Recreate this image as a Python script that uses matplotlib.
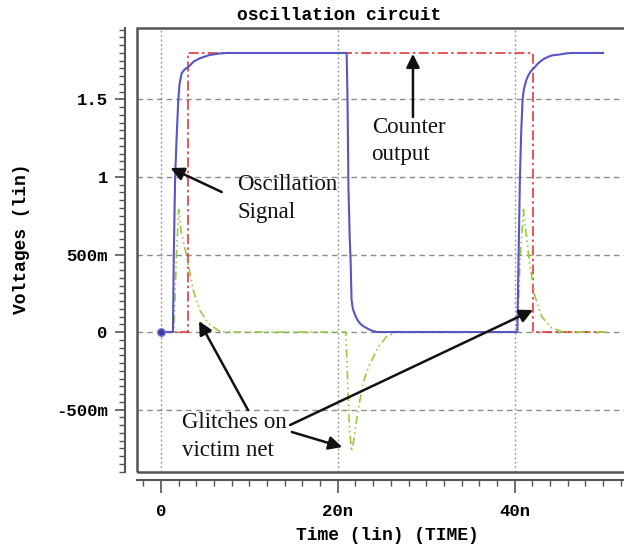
import matplotlib
matplotlib.use('Agg')
import matplotlib.pyplot as plt
from matplotlib.patches import Rectangle
from matplotlib.ticker import MultipleLocator, FixedLocator, FixedFormatter

# transient waveforms, time in ns, voltage in V
osc_t = [0, 1.35, 1.45, 1.6, 1.76, 1.88, 1.96, 2.1, 2.34, 2.7, 3.1, 3.7,
         4.4, 5.5, 6.4, 7.4,
         21.0, 21.1, 21.2, 21.35, 21.45, 21.55, 21.7, 21.95, 22.2, 22.5,
         22.9, 23.3, 23.8, 24.4,
         40.3, 40.45, 40.6, 40.75, 40.9, 41.0, 41.1, 41.2, 41.35, 41.55,
         41.8, 42.05, 42.3, 42.6, 42.9, 43.25, 43.6, 44.0, 44.3, 45.1,
         45.8, 46.5, 50.0]
osc_v = [0, 0, 0.5, 1.0, 1.24, 1.4, 1.5, 1.6, 1.67, 1.695, 1.71, 1.745,
         1.766, 1.787, 1.795, 1.8,
         1.8, 1.5, 0.94, 0.6, 0.46, 0.21, 0.15, 0.11, 0.08, 0.056,
         0.037, 0.024, 0.01, 0,
         0, 0.5, 1.0, 1.3, 1.5, 1.55, 1.58, 1.6, 1.63, 1.655,
         1.68, 1.695, 1.71, 1.73, 1.745, 1.76, 1.77, 1.78, 1.785, 1.79,
         1.797, 1.8, 1.8]

cnt_t = [0, 3.1, 3.1, 42.1, 42.1, 50.0]
cnt_v = [0, 0, 1.8, 1.8, 0, 0]

glitch_t = [0, 1.45, 1.75, 2.0, 2.3, 2.9, 3.65, 4.4, 5.3, 6.7,
            20.9, 21.1, 21.3, 21.55, 21.8, 22.3, 22.9, 23.5, 24.6, 25.5, 26.6,
            40.35, 40.6, 41.0, 41.35, 41.7, 42.3, 43.05, 44.2, 45.5, 50.3]
glitch_v = [0, 0, 0.5, 0.79, 0.64, 0.49, 0.27, 0.14, 0.06, 0,
            0, -0.3, -0.6, -0.77, -0.7, -0.5, -0.32, -0.22, -0.095, -0.03, 0,
            0, 0.45, 0.79, 0.61, 0.44, 0.23, 0.1, 0.026, 0, 0]

y_ticks = [-0.5, 0, 0.5, 1, 1.5]
y_labels = ['-500m', '0', '500m', '1', '1.5']
x_ticks = [0, 20, 40]
x_labels = ['0', '20n', '40n']

mono = 'Liberation Mono'
serif = 'Liberation Serif'

fig = plt.figure(figsize=(6.24, 5.46), dpi=100)
ax = fig.add_axes([0.2196, 0.1355, 0.7804, 0.8132])
ax.set_xlim(-2.71, 52.37)
ax.set_ylim(-0.903, 1.961)

# grid
for v in y_ticks:
    ax.axhline(v, color='#8c8c8c', lw=1, ls=(0, (4, 3)), zorder=1)
for t in x_ticks:
    ax.axvline(t, color='#8c8c8c', lw=1, ls=(0, (1.2, 2)), zorder=1)

ax.plot(cnt_t, cnt_v, color='#e0393e', lw=1.2, ls=(0, (6, 2, 1.5, 2)), zorder=2)
ax.plot(glitch_t, glitch_v, color='#98cc3c', lw=1.2, ls=(0, (5, 2, 1, 2, 1, 2)), zorder=3)
ax.plot(osc_t, osc_v, color='#5656c4', lw=1.5, solid_joinstyle='round', zorder=4)
ax.plot([0], [0], 'o', ms=5.5, color='#3a3aa4', mec='#7a7ad8', zorder=5)

# axes: offset tick rulers plus a plain frame
for s in ['top', 'right']:
    ax.spines[s].set_visible(False)
ax.spines['left'].set_position(('outward', 9))
ax.spines['bottom'].set_position(('outward', 6))
for s in ['left', 'bottom']:
    ax.spines[s].set_color('#555555')
    ax.spines[s].set_linewidth(1.5)
ax.add_patch(Rectangle((0, 0), 1.05, 1, transform=ax.transAxes, fill=False,
                       ec='#555555', lw=1.8, clip_on=False, zorder=6))

ax.yaxis.set_major_locator(FixedLocator(y_ticks))
ax.yaxis.set_major_formatter(FixedFormatter(y_labels))
ax.yaxis.set_minor_locator(MultipleLocator(0.05))
ax.xaxis.set_major_locator(FixedLocator(x_ticks))
ax.xaxis.set_major_formatter(FixedFormatter(x_labels))
ax.xaxis.set_minor_locator(MultipleLocator(2))

ax.tick_params(axis='y', which='major', length=7, width=1.2, color='#555555', pad=5)
ax.tick_params(axis='y', which='minor', length=4.5, width=1, color='#555555')
ax.tick_params(axis='x', which='major', length=9, width=1.2, color='#555555', pad=8)
ax.tick_params(axis='x', which='minor', length=4, width=1, color='#555555')
for lab in ax.get_xticklabels() + ax.get_yticklabels():
    lab.set_fontfamily(mono)
    lab.set_fontweight('bold')
    lab.set_fontsize(12.5)

fig.text(339 / 624, 1 - 15 / 546, 'oscillation circuit', family=mono,
         weight='bold', size=13, ha='center', va='center')
fig.text(387 / 624, 1 - 536 / 546, 'Time (lin) (TIME)', family=mono,
         weight='bold', size=13, ha='center', va='center')
fig.text(22 / 624, 1 - 239 / 546, 'Voltages (lin)', family=mono,
         weight='bold', size=13, ha='center', va='center', rotation=90)

# callouts
notes = [('Oscillation', 8.6, 0.916), ('Signal', 8.7, 0.735),
         ('Counter', 23.87, 1.284), ('output', 23.76, 1.11),
         ('Glitches on', 2.38, -0.619), ('victim net', 2.38, -0.80)]
for txt, t, v in notes:
    ax.text(t, v, txt, family=serif, size=16.5, ha='left', va='baseline',
            color='#111111', zorder=7)

arrows = [((28.5, 1.387), (28.5, 1.794)),
          ((6.87, 0.903), (1.08, 1.058)),
          ((9.84, -0.503), (4.3, 0.071)),
          ((14.6, -0.60), (42.08, 0.142)),
          ((14.8, -0.645), (20.5, -0.742))]
for tail, tip in arrows:
    ax.annotate('', xy=tip, xytext=tail,
                arrowprops=dict(arrowstyle='-|>', color='#111111', lw=1.8,
                                mutation_scale=20, shrinkA=0, shrinkB=0),
                zorder=7)

fig.savefig('out.png', dpi=100)
